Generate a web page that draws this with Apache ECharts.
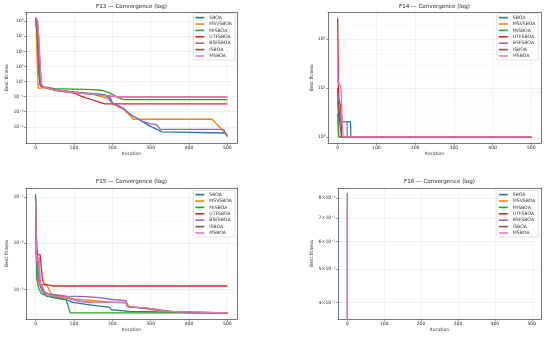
<!DOCTYPE html>
<html><head><meta charset="utf-8">
<script src="https://cdn.jsdelivr.net/npm/echarts@6/dist/echarts.min.js"></script>
<style>html,body{margin:0;padding:0;background:#fff}#c{width:550px;height:337px}</style>
</head><body><div id="c"></div>
<script>
// ---------- data ----------
const algos = ['SBOA','MSVSBOA','MISBOA','UTFSBOA','BSFSBOA','ISBOA','MSBOA'];
const colors = ['#1f77b4','#ff7f0e','#2ca02c','#d62728','#9467bd','#8c564b','#e377c2'];
const xTicks = [0,100,200,300,400,500];
const f13YTicks = [1e-5,1e-3,1e-1,1e1,1e3,1e5,1e7,1e9];
const f14YTicks = [1,10,100];
const f15YTicks = [1e-3,1e-2,1e-1];
const f16YTicks = [0.4,0.5,0.6,0.7,0.8];
const f16YLabels = ['4×10⁻¹','5×10⁻¹','6×10⁻¹','7×10⁻¹','8×10⁻¹'];

// F13 [iteration, best fitness]
const f13_SBOA    = [[0,2e9],[3,3e8],[6,1e5],[9,1e2],[11,5],[15,2.2],[25,1.5],[50,0.8],[100,0.4],[150,0.25],[180,0.18],[188,0.08],[192,0.15],[200,0.015],[230,2.5e-3],[250,3.4e-4],[280,4.5e-5],[297,1.3e-5],[330,2.1e-6],[335,1.6e-6],[495,1.5e-6],[500,6e-7]];
const f13_MSVSBOA = [[0,1e9],[2,1e8],[4,1e4],[6,10],[7,1.2],[9,1.5],[20,1.6],[50,0.85],[100,0.42],[150,0.22],[190,0.05],[200,0.012],[230,2e-3],[250,2e-4],[255,1e-4],[460,1e-4],[470,3e-5],[485,5e-6],[500,5e-7]];
const f13_MISBOA  = [[0,5e8],[3,1e8],[6,1e5],[9,1e2],[12,3],[20,2],[50,1.15],[100,1.0],[150,0.85],[170,0.7],[190,0.37],[200,0.2],[215,0.075],[230,0.04],[500,0.04]];
const f13_UTFSBOA = [[0,3e9],[3,5e8],[6,1e6],[10,1e2],[13,3],[20,2],[50,0.7],[100,0.3],[120,0.11],[150,0.033],[170,0.016],[180,0.0107],[500,0.0107]];
const f13_BSFSBOA = [[0,1.5e9],[4,2e8],[8,1e5],[11,1e2],[13,4],[20,2],[50,0.8],[100,0.38],[150,0.22],[185,0.15],[200,0.015],[230,2.5e-3],[250,3.4e-4],[280,5e-5],[300,2.5e-5],[315,2e-5],[325,4.5e-6],[490,4.5e-6],[500,5e-7]];
const f13_ISBOA   = [[0,3e9],[5,1e9],[8,1e7],[12,1e3],[15,5],[20,2],[50,0.75],[100,0.35],[150,0.2],[200,0.11],[220,0.091],[500,0.091]];
const f13_MSBOA   = [[0,3e9],[5,1e9],[8,1e7],[12,1e3],[15,5],[20,2],[50,0.75],[100,0.35],[150,0.2],[200,0.11],[220,0.091],[500,0.091]];

// F14
const f14_SBOA    = [[0,10],[1,4],[4,2.05],[33,2.05],[34,1],[500,1]];
const f14_MSVSBOA = [[0,2.9],[1,2.9],[2,1],[500,1]];
const f14_MISBOA  = [[0,3.0],[2,3.0],[3,1],[500,1]];
const f14_UTFSBOA = [[0,270],[1,270],[2,10],[3,6],[8,4],[10,1],[500,1]];
const f14_BSFSBOA = [[0,8],[2,5],[5,3],[8,2.05],[24,2.05],[25,1],[500,1]];
const f14_ISBOA   = [[0,5],[3,4],[5,2],[10,1],[500,1]];
const f14_MSBOA   = [[0,23],[1,12.5],[6,12.5],[8,11],[10,5],[12,2],[14,1],[500,1]];

// F15
const f15_SBOA    = [[0,0.1165],[3,5.4e-3],[6,2.7e-3],[10,1.4e-3],[15,1.0e-3],[28,7.1e-4],[45,6.8e-4],[80,6.0e-4],[97,5.2e-4],[132,4.7e-4],[167,4.3e-4],[193,4.1e-4],[197,3.6e-4],[245,3.3e-4],[366,3.2e-4],[400,3.1e-4],[500,3.07e-4]];
const f15_MSVSBOA = [[0,6.9e-3],[3,6.9e-3],[6,1.6e-3],[15,1.3e-3],[30,1.2e-3],[40,8e-4],[100,6.2e-4],[200,5.2e-4],[239,5.0e-4],[242,4.3e-4],[340,3.2e-4],[500,3.07e-4]];
const f15_MISBOA  = [[0,0.095],[3,1.66e-3],[9,1.0e-3],[15,8.1e-4],[28,7.4e-4],[45,6.6e-4],[80,5.9e-4],[85,5.5e-4],[90,3.07e-4],[500,3.07e-4]];
const f15_UTFSBOA = [[0,0.057],[3,8e-3],[6,5.6e-3],[12,5.6e-3],[15,2.8e-3],[19,1.5e-3],[23,1.3e-3],[45,1.18e-3],[500,1.18e-3]];
const f15_BSFSBOA = [[0,0.02],[3,4e-3],[10,1.3e-3],[20,9e-4],[36,7.8e-4],[80,7.1e-4],[132,6.9e-4],[167,6.6e-4],[200,6.0e-4],[236,5.7e-4],[239,4.3e-4],[250,4.1e-4],[297,3.8e-4],[358,3.3e-4],[400,3.07e-4],[500,3.07e-4]];
const f15_ISBOA   = [[0,0.08],[3,4e-3],[8,5e-3],[12,1.4e-3],[20,1.0e-3],[28,7.5e-4],[80,6.5e-4],[115,5.5e-4],[150,5.2e-4],[236,5.2e-4],[239,4.2e-4],[290,3.9e-4],[340,3.3e-4],[500,3.07e-4]];
const f15_MSBOA   = [[0,0.08],[3,4e-3],[8,5e-3],[12,1.4e-3],[20,1.0e-3],[28,7.5e-4],[80,6.5e-4],[115,5.5e-4],[150,5.2e-4],[236,5.2e-4],[239,4.2e-4],[290,3.9e-4],[340,3.3e-4],[500,3.07e-4]];

// F16
const f16_SBOA    = [[0,0.30],[1,1e-3]];
const f16_MSVSBOA = [[0,0.28],[1,1e-3]];
const f16_MISBOA  = [[0,0.25],[1,1e-3]];
const f16_UTFSBOA = [[0,0.33],[1,1e-3]];
const f16_BSFSBOA = [[0,0.827],[1,1e-3]];
const f16_ISBOA   = [[0,0.31],[1,1e-3]];
const f16_MSBOA   = [[0,0.733],[1,1e-3]];

const panels = [
  {title:'F13 — Convergence (log)', data:[f13_SBOA,f13_MSVSBOA,f13_MISBOA,f13_UTFSBOA,f13_BSFSBOA,f13_ISBOA,f13_MSBOA]},
  {title:'F14 — Convergence (log)', data:[f14_SBOA,f14_MSVSBOA,f14_MISBOA,f14_UTFSBOA,f14_BSFSBOA,f14_ISBOA,f14_MSBOA]},
  {title:'F15 — Convergence (log)', data:[f15_SBOA,f15_MSVSBOA,f15_MISBOA,f15_UTFSBOA,f15_BSFSBOA,f15_ISBOA,f15_MSBOA]},
  {title:'F16 — Convergence (log)', data:[f16_SBOA,f16_MSVSBOA,f16_MISBOA,f16_UTFSBOA,f16_BSFSBOA,f16_ISBOA,f16_MSBOA]}
];

// ---------- layout / style ----------
const FONT = 'DejaVu Sans';
const grids = [
  {left:26, top:12.5, width:211, height:130.5},
  {left:328, top:12.5, width:213, height:130.5},
  {left:26, top:188, width:211, height:131},
  {left:338, top:188, width:203, height:131}
];
const yLim = [
  [Math.pow(10,-7.15), Math.pow(10,10.15)],
  [Math.pow(10,-0.124), Math.pow(10,2.545)],
  [Math.pow(10,-3.645), Math.pow(10,-0.80)],
  [0.359, 0.855]
];
const yNameGap = [13, 9.5, 13, 21.5];
const SUP = {'-':'⁻','0':'⁰','1':'¹','2':'²','3':'³','4':'⁴','5':'⁵','6':'⁶','7':'⁷','8':'⁸','9':'⁹'};
const pow10Label = v => '10' + String(Math.round(Math.log10(v))).split('').map(c=>SUP[c]).join('');
const yTickSets = [f13YTicks, f14YTicks, f15YTicks, f16YTicks];
function minorTicks(lo, hi){
  const out=[];
  for(let e=Math.floor(Math.log10(lo)); e<=Math.ceil(Math.log10(hi)); e++)
    for(let m=2;m<=9;m++){const v=m*Math.pow(10,e); if(v>lo&&v<hi) out.push(v);}
  return out;
}

const axisLineStyle = {color:'#555', width:0.8};
const tickFont = {fontFamily:FONT, fontSize:4.6, color:'#333'};

const xAxis = grids.map((g,i)=>({
  type:'value', gridIndex:i, min:-25, max:525,
  name:'Iteration', nameLocation:'middle', nameGap:8,
  nameTextStyle:{fontFamily:FONT, fontSize:4.6, color:'#333'},
  axisLine:{show:true, onZero:false, lineStyle:axisLineStyle},
  axisTick:{show:true, length:2, lineStyle:{color:'#555', width:0.6}, customValues:xTicks},
  axisLabel:{show:true, margin:2.5, ...tickFont, customValues:xTicks, formatter:v=>String(Math.round(v))},
  splitLine:{show:true, lineStyle:{color:'#e4e4e4', width:0.5}, customValues:xTicks}
}));
grids.forEach((g,i)=>xAxis.push({type:'value', gridIndex:i, min:-25, max:525, position:'top',
  axisLine:{show:true, onZero:false, lineStyle:axisLineStyle}, axisTick:{show:false}, axisLabel:{show:false}, splitLine:{show:false}}));

const yAxis = grids.map((g,i)=>({
  type:'log', logBase:10, gridIndex:i, min:yLim[i][0], max:yLim[i][1],
  name:'Best fitness', nameLocation:'middle', nameGap:yNameGap[i],
  nameTextStyle:{fontFamily:FONT, fontSize:4.6, color:'#333'},
  axisLine:{show:true, onZero:false, lineStyle:axisLineStyle},
  axisTick:{show:true, length:2, lineStyle:{color:'#555', width:0.6}, customValues:yTickSets[i]},
  axisLabel:{show:true, margin:2.5, ...tickFont, customValues:yTickSets[i],
    formatter: i===3 ? (v=>f16YLabels[f16YTicks.findIndex(t=>Math.abs(t-v)<1e-6)] || '') : pow10Label},
  splitLine:{show:true, lineStyle:{color:'#e0e0e0', width:0.5}, customValues:yTickSets[i]}
}));
grids.forEach((g,i)=>yAxis.push({type:'log', logBase:10, gridIndex:i, min:yLim[i][0], max:yLim[i][1], position:'right',
  axisLine:{show:true, onZero:false, lineStyle:axisLineStyle}, axisTick:{show:false}, axisLabel:{show:false}, splitLine:{show:false}}));
[1,2].forEach(i=>{
  const mt = minorTicks(yLim[i][0], yLim[i][1]);
  yAxis.push({type:'log', logBase:10, gridIndex:i, min:yLim[i][0], max:yLim[i][1], position:'left',
    axisLine:{show:false}, axisTick:{show:false, customValues:mt}, axisLabel:{show:false, customValues:mt},
    splitLine:{show:true, lineStyle:{color:'#f0f0f0', width:0.4}, customValues:mt}});
});

const series = [];
panels.forEach((p,i)=>{
  p.data.forEach((d,k)=>{
    series.push({type:'line', name:algos[k], xAxisIndex:i, yAxisIndex:i, data:d,
      symbol:'none', showSymbol:false, clip:true, animation:false,
      lineStyle:{color:colors[k], width:1.3}, itemStyle:{color:colors[k]}, z:2});
  });
});

const legendPos = [
  {right:315, top:13.5}, {right:11.5, top:13.5}, {right:315, top:190.5}, {right:11.5, top:190.5}
];
const legend = legendPos.map(p=>({
  ...p, orient:'vertical', data:algos, icon:'rect', itemWidth:9, itemHeight:1.6, itemGap:1.2,
  textStyle:{fontFamily:FONT, fontSize:4.6, color:'#333', lineHeight:5.2},
  padding:[1.5,3,1.5,2], backgroundColor:'rgba(255,255,255,0.85)', borderColor:'#d0d0d0', borderWidth:0.6, borderRadius:1.5,
  selectedMode:false
}));

const title = panels.map((p,i)=>({
  text:p.title, left:grids[i].left+grids[i].width/2, textAlign:'center', top:grids[i].top-9,
  padding:0, textStyle:{fontFamily:FONT, fontSize:5.6, fontWeight:'normal', color:'#222'}
}));

const chart = echarts.init(document.getElementById('c'), null, {renderer:'canvas', devicePixelRatio:1});
chart.setOption({animation:false, backgroundColor:'#fff', title, legend, grid:grids.map(g=>({...g, containLabel:false})), xAxis, yAxis, series});
</script></body></html>
